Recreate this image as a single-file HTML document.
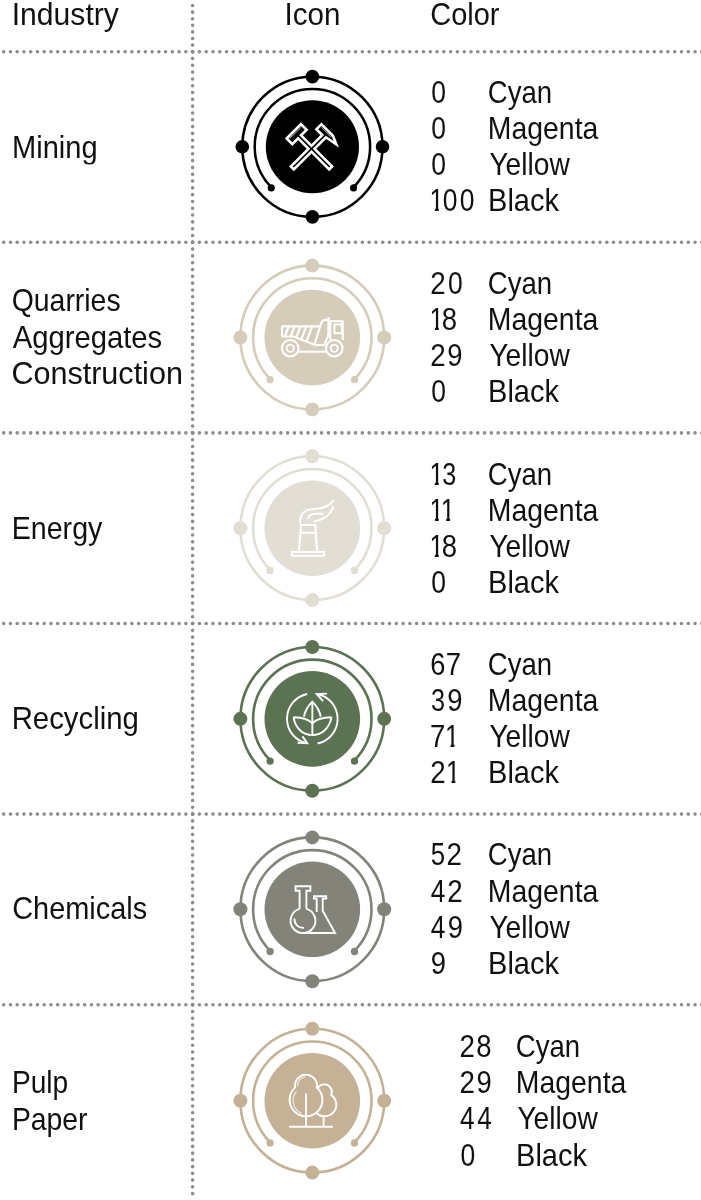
<!DOCTYPE html>
<html><head><meta charset="utf-8"><style>
html,body{margin:0;padding:0;background:#fff;width:701px;height:1200px;overflow:hidden}
svg{display:block}
</style></head><body>
<svg width="701" height="1200" viewBox="0 0 701 1200">
<line x1="3.71" y1="51.7" x2="192.6" y2="51.7" stroke="#8c8c8c" stroke-width="3.6" stroke-linecap="round" stroke-dasharray="0 6.746"/>
<line x1="192.6" y1="51.7" x2="710" y2="51.7" stroke="#8c8c8c" stroke-width="3.6" stroke-linecap="round" stroke-dasharray="0 6.79"/>
<line x1="3.71" y1="242.3" x2="192.6" y2="242.3" stroke="#8c8c8c" stroke-width="3.6" stroke-linecap="round" stroke-dasharray="0 6.746"/>
<line x1="192.6" y1="242.3" x2="710" y2="242.3" stroke="#8c8c8c" stroke-width="3.6" stroke-linecap="round" stroke-dasharray="0 6.79"/>
<line x1="3.71" y1="432.9" x2="192.6" y2="432.9" stroke="#8c8c8c" stroke-width="3.6" stroke-linecap="round" stroke-dasharray="0 6.746"/>
<line x1="192.6" y1="432.9" x2="710" y2="432.9" stroke="#8c8c8c" stroke-width="3.6" stroke-linecap="round" stroke-dasharray="0 6.79"/>
<line x1="3.71" y1="623.55" x2="192.6" y2="623.55" stroke="#8c8c8c" stroke-width="3.6" stroke-linecap="round" stroke-dasharray="0 6.746"/>
<line x1="192.6" y1="623.55" x2="710" y2="623.55" stroke="#8c8c8c" stroke-width="3.6" stroke-linecap="round" stroke-dasharray="0 6.79"/>
<line x1="3.71" y1="814.1" x2="192.6" y2="814.1" stroke="#8c8c8c" stroke-width="3.6" stroke-linecap="round" stroke-dasharray="0 6.746"/>
<line x1="192.6" y1="814.1" x2="710" y2="814.1" stroke="#8c8c8c" stroke-width="3.6" stroke-linecap="round" stroke-dasharray="0 6.79"/>
<line x1="3.71" y1="1004.8" x2="192.6" y2="1004.8" stroke="#8c8c8c" stroke-width="3.6" stroke-linecap="round" stroke-dasharray="0 6.746"/>
<line x1="192.6" y1="1004.8" x2="710" y2="1004.8" stroke="#8c8c8c" stroke-width="3.6" stroke-linecap="round" stroke-dasharray="0 6.79"/>
<line x1="192.6" y1="5.53" x2="192.6" y2="51.90" stroke="#8c8c8c" stroke-width="3.6" stroke-linecap="round" stroke-dasharray="0 6.5957"/>
<line x1="192.6" y1="51.7" x2="192.6" y2="242.50" stroke="#8c8c8c" stroke-width="3.6" stroke-linecap="round" stroke-dasharray="0 6.8071"/>
<line x1="192.6" y1="242.3" x2="192.6" y2="433.10" stroke="#8c8c8c" stroke-width="3.6" stroke-linecap="round" stroke-dasharray="0 6.8071"/>
<line x1="192.6" y1="432.9" x2="192.6" y2="623.75" stroke="#8c8c8c" stroke-width="3.6" stroke-linecap="round" stroke-dasharray="0 6.8089"/>
<line x1="192.6" y1="623.55" x2="192.6" y2="814.30" stroke="#8c8c8c" stroke-width="3.6" stroke-linecap="round" stroke-dasharray="0 6.8054"/>
<line x1="192.6" y1="814.1" x2="192.6" y2="1005.00" stroke="#8c8c8c" stroke-width="3.6" stroke-linecap="round" stroke-dasharray="0 6.8107"/>
<line x1="192.6" y1="1004.8" x2="192.6" y2="1193.80" stroke="#8c8c8c" stroke-width="3.6" stroke-linecap="round" stroke-dasharray="0 6.7429"/>
<g transform="translate(312.4,146.76) scale(0.975)"><circle r="71.9" fill="none" stroke="#000000" stroke-width="2.6"/><circle cx="0" cy="-71.9" r="7" fill="#000000"/><circle cx="71.9" cy="0" r="7" fill="#000000"/><circle cx="0" cy="71.9" r="7" fill="#000000"/><circle cx="-71.9" cy="0" r="7" fill="#000000"/><path d="M-41.86,41.86 A59.2,59.2 0 1 1 41.86,41.86" fill="none" stroke="#000000" stroke-width="2.6"/><circle cx="-42.2" cy="42.2" r="3.65" fill="#000000"/><circle cx="42.2" cy="42.2" r="3.65" fill="#000000"/><circle r="47.8" fill="#000000"/></g>
<g transform="translate(312.3,337.5) scale(1.0)"><circle r="71.9" fill="none" stroke="#d5ccba" stroke-width="2.6"/><circle cx="0" cy="-71.9" r="7" fill="#d5ccba"/><circle cx="71.9" cy="0" r="7" fill="#d5ccba"/><circle cx="0" cy="71.9" r="7" fill="#d5ccba"/><circle cx="-71.9" cy="0" r="7" fill="#d5ccba"/><path d="M-41.86,41.86 A59.2,59.2 0 1 1 41.86,41.86" fill="none" stroke="#d5ccba" stroke-width="2.6"/><circle cx="-42.2" cy="42.2" r="3.65" fill="#d5ccba"/><circle cx="42.2" cy="42.2" r="3.65" fill="#d5ccba"/><circle r="47.8" fill="#d5ccba"/></g>
<g transform="translate(312.3,528.2) scale(1.0)"><circle r="71.9" fill="none" stroke="#e2ded3" stroke-width="2.6"/><circle cx="0" cy="-71.9" r="7" fill="#e2ded3"/><circle cx="71.9" cy="0" r="7" fill="#e2ded3"/><circle cx="0" cy="71.9" r="7" fill="#e2ded3"/><circle cx="-71.9" cy="0" r="7" fill="#e2ded3"/><path d="M-41.86,41.86 A59.2,59.2 0 1 1 41.86,41.86" fill="none" stroke="#e2ded3" stroke-width="2.6"/><circle cx="-42.2" cy="42.2" r="3.65" fill="#e2ded3"/><circle cx="42.2" cy="42.2" r="3.65" fill="#e2ded3"/><circle r="47.8" fill="#e2ded3"/></g>
<g transform="translate(312.3,718.85) scale(1.0)"><circle r="71.9" fill="none" stroke="#5b7352" stroke-width="2.6"/><circle cx="0" cy="-71.9" r="7" fill="#5b7352"/><circle cx="71.9" cy="0" r="7" fill="#5b7352"/><circle cx="0" cy="71.9" r="7" fill="#5b7352"/><circle cx="-71.9" cy="0" r="7" fill="#5b7352"/><path d="M-41.86,41.86 A59.2,59.2 0 1 1 41.86,41.86" fill="none" stroke="#5b7352" stroke-width="2.6"/><circle cx="-42.2" cy="42.2" r="3.65" fill="#5b7352"/><circle cx="42.2" cy="42.2" r="3.65" fill="#5b7352"/><circle r="47.8" fill="#5b7352"/></g>
<g transform="translate(312.3,909.3) scale(1.0)"><circle r="71.9" fill="none" stroke="#83837a" stroke-width="2.6"/><circle cx="0" cy="-71.9" r="7" fill="#83837a"/><circle cx="71.9" cy="0" r="7" fill="#83837a"/><circle cx="0" cy="71.9" r="7" fill="#83837a"/><circle cx="-71.9" cy="0" r="7" fill="#83837a"/><path d="M-41.86,41.86 A59.2,59.2 0 1 1 41.86,41.86" fill="none" stroke="#83837a" stroke-width="2.6"/><circle cx="-42.2" cy="42.2" r="3.65" fill="#83837a"/><circle cx="42.2" cy="42.2" r="3.65" fill="#83837a"/><circle r="47.8" fill="#83837a"/></g>
<g transform="translate(312.3,1100.7) scale(1.0)"><circle r="71.9" fill="none" stroke="#c5b195" stroke-width="2.6"/><circle cx="0" cy="-71.9" r="7" fill="#c5b195"/><circle cx="71.9" cy="0" r="7" fill="#c5b195"/><circle cx="0" cy="71.9" r="7" fill="#c5b195"/><circle cx="-71.9" cy="0" r="7" fill="#c5b195"/><path d="M-41.86,41.86 A59.2,59.2 0 1 1 41.86,41.86" fill="none" stroke="#c5b195" stroke-width="2.6"/><circle cx="-42.2" cy="42.2" r="3.65" fill="#c5b195"/><circle cx="42.2" cy="42.2" r="3.65" fill="#c5b195"/><circle r="47.8" fill="#c5b195"/></g>
<g fill="#fff" stroke="#fff" stroke-width="5.2" stroke-linejoin="miter" stroke-miterlimit="10"><path transform="translate(311.5,148.8) rotate(-45)" d="M-8.9,-23.6 L8.7,-23.6 L8.7,-18.2 L0.8,-18.2 L0.8,25.8 L-0.8,25.8 L-0.8,-18.2 L-8.9,-18.2 Z"/><path transform="translate(311.5,148.8) rotate(45)" d="M-9.05,-23.1 L5.6,-23.1 L10.0,-21.2 L0.8,-19.4 L0.8,25.8 L-0.8,25.8 L-0.8,-18.6 L-9.05,-18.6 Z"/></g>
<g fill="#000"><path transform="translate(311.5,148.8) rotate(-45)" d="M-8.9,-23.6 L8.7,-23.6 L8.7,-18.2 L0.8,-18.2 L0.8,25.8 L-0.8,25.8 L-0.8,-18.2 L-8.9,-18.2 Z"/><path transform="translate(311.5,148.8) rotate(45)" d="M-9.05,-23.1 L5.6,-23.1 L10.0,-21.2 L0.8,-19.4 L0.8,25.8 L-0.8,25.8 L-0.8,-18.6 L-9.05,-18.6 Z"/></g>
<g stroke="#fff" stroke-width="1" stroke-opacity=".6"><path transform="translate(311.5,148.8) rotate(-45)" d="M-8.0,-22.6 H7.9"/><path transform="translate(311.5,148.8) rotate(45)" d="M-8.3,-22.2 H6"/></g>
<g fill="none" stroke="#fff" stroke-linejoin="miter" stroke-linecap="butt" stroke-width="2.1"><path d="M282,336.5 V326.4 H320"/><path d="M282,336.5 H293.4 L315,345 H325"/><path d="M314.4,344.5 L320.6,325 Q322,320.3 325,319.9 H328.4 V335.1 L324.5,344.5"/><path d="M328.5,317 V321"/><path d="M329,321.3 H343.6 M342.6,321.3 L342.9,340 M330.2,321.4 V339.7"/><path d="M334.4,324.6 H341.8 V333.2 H334.4 Z" stroke-width="2"/><path d="M288.6,326.4 L284.76,336.50" stroke-width="2.2"/><path d="M294.5,326.4 L290.66,336.50" stroke-width="2.2"/><path d="M300.4,326.4 L296.15,337.59" stroke-width="2.2"/><path d="M306.3,326.4 L301.28,339.62" stroke-width="2.2"/><path d="M312.2,326.4 L306.41,341.65" stroke-width="2.2"/><circle cx="290.27" cy="348.24" r="8.3"/><circle cx="290.27" cy="348.24" r="3.6" stroke-width="1.8"/><circle cx="334.25" cy="348.24" r="8.3"/><circle cx="334.25" cy="348.24" r="3.6" stroke-width="1.8"/><path d="M298.5,351.7 H326"/></g>
<g fill="none" stroke="#fff" stroke-linejoin="miter" stroke-linecap="butt" stroke-width="2" stroke-linecap="round"><path d="M291.9,551.9 H324.1 V555.8 H291.9 Z"/><path d="M298.9,551.5 L301.05,525 H315.3 L317.1,551.5"/><path d="M300.6,532.8 H315.8"/><path d="M300,523.5 C300,514 304,509.6 312,509.2 C322,508.9 330,507 333.5,500"/><path d="M333.5,506.4 C331,514 324,520 313.9,521.4"/><path d="M307.8,518.9 C308.5,515.5 311,513.8 315.7,513.7 L323.2,513.8"/></g>
<g fill="none" stroke="#fff" stroke-linejoin="miter" stroke-linecap="butt" stroke-width="1.9"><path d="M307.2,694 A25.2,25.2 0 0 0 307.2,743.4"/><path d="M302.4,736.3 L307.2,743.1 L297.6,742.7"/><path d="M317.5,743.5 A25.2,25.2 0 0 0 316.75,694"/><path d="M327.1,693.6 L316.75,694 L323.1,701.2"/><path d="M303.97,716.75 C305,710 309,705 312.35,701.6 C315.7,705 319.7,710 320.7,716.75"/><path d="M312.35,703 V735"/><path d="M293.6,717.2 C295,728 303,735.1 312.35,735.1 C321.7,735.1 329.7,728 331.5,717.2"/><path d="M293.6,717.2 C302,717.5 309,719 312.35,723.5 C315.7,719 322.7,717.5 331.5,717.2"/></g>
<g fill="none" stroke="#fff" stroke-linejoin="miter" stroke-linecap="butt" stroke-width="1.9"><path d="M299.6,908.8 A12.4,12.4 0 1 0 306.4,908.8"/><path d="M299.6,908.8 V890.8 H295.6 V886.3 H310.4 V890.8 H306.4 V908.8"/><path d="M294.4,919.1 C294.4,924 298,927.9 303.2,927.9" stroke-linecap="round"/><path d="M316.7,912 V898.6 H313.9 V896.2 H326.2 V898.6 H322.7 V910.8 L335.1,933 H303.2"/></g>
<g fill="none" stroke="#fff" stroke-linejoin="miter" stroke-linecap="butt" stroke-width="1.9"><path d="M317.57,1095.55 A7.6,7.6 0 1 1 331.23,1095.1 A11.6,11.6 0 1 1 317.57,1095.55 Z"/><path d="M323.6,1115 V1126.75"/><path d="M295.15,1087.6 A11,11 0 1 1 316.85,1087.6 A16.4,16.4 0 1 1 295.15,1087.6 Z" fill="#c5b195"/><path d="M297.4,1086.2 A9,9 0 0 1 305,1076.9" stroke-width="1.1" stroke-opacity=".75"/><path d="M296.5,1091.3 A14.1,14.1 0 0 0 301.5,1113.4" stroke-width="1.1" stroke-opacity=".75"/><path d="M306,1093.5 V1126.75"/><path d="M289.2,1126.75 H332.7"/></g>
<defs><clipPath id="one" clipPathUnits="userSpaceOnUse"><rect x="-5" y="-35" width="30" height="31.9"/><rect x="6.6" y="-35" width="4.6" height="40"/></clipPath></defs>
<g font-family="Liberation Sans, sans-serif" font-size="30.5" fill="#111" opacity="0.999"><text transform="translate(11.74,25.0) scale(0.9873,1)">Industry</text>
<text transform="translate(284.59,25.0) scale(0.9688,1)">Icon</text>
<text transform="translate(430.26,25.0) scale(0.9488,1)">Color</text>
<text transform="translate(12.06,157.5) scale(0.9523,1)">Mining</text>
<text transform="translate(431.37,102.7) scale(0.8675,1)">0</text>
<text transform="translate(487.84,102.7) scale(0.9041,1)">Cyan</text>
<text transform="translate(431.37,138.9) scale(0.8675,1)">0</text>
<text transform="translate(487.82,138.9) scale(0.9314,1)">Magenta</text>
<text transform="translate(431.37,175.10000000000002) scale(0.8675,1)">0</text>
<text transform="translate(489.41,175.10000000000002) scale(0.9237,1)">Yellow</text>
<text transform="translate(429.39,211.3) scale(0.8354,1)" clip-path="url(#one)">1</text>
<text transform="translate(442.67,211.3) scale(0.8675,1)">0</text>
<text transform="translate(459.87,211.3) scale(0.8675,1)">0</text>
<text transform="translate(488.06,211.3) scale(0.9519,1)">Black</text>
<text transform="translate(11.67,311.0) scale(0.9322,1)">Quarries</text>
<text transform="translate(12.65,347.6) scale(0.9590,1)">Aggregates</text>
<text transform="translate(11.38,384.4) scale(1.0024,1)">Construction</text>
<text transform="translate(430.25,293.6) scale(0.9084,1)">2</text>
<text transform="translate(447.97,293.6) scale(0.8675,1)">0</text>
<text transform="translate(487.84,293.6) scale(0.9041,1)">Cyan</text>
<text transform="translate(429.39,329.8) scale(0.8354,1)" clip-path="url(#one)">1</text>
<text transform="translate(441.79,329.8) scale(0.9014,1)">8</text>
<text transform="translate(487.82,329.8) scale(0.9314,1)">Magenta</text>
<text transform="translate(430.25,366.0) scale(0.9084,1)">2</text>
<text transform="translate(447.31,366.0) scale(0.8994,1)">9</text>
<text transform="translate(489.41,366.0) scale(0.9237,1)">Yellow</text>
<text transform="translate(431.37,402.20000000000005) scale(0.8675,1)">0</text>
<text transform="translate(488.06,402.20000000000005) scale(0.9519,1)">Black</text>
<text transform="translate(11.75,538.8) scale(0.9379,1)">Energy</text>
<text transform="translate(429.39,484.6) scale(0.8354,1)" clip-path="url(#one)">1</text>
<text transform="translate(442.20,484.6) scale(0.8259,1)">3</text>
<text transform="translate(487.84,484.6) scale(0.9041,1)">Cyan</text>
<text transform="translate(429.39,520.8000000000001) scale(0.8354,1)" clip-path="url(#one)">1</text>
<text transform="translate(440.69,520.8000000000001) scale(0.8354,1)" clip-path="url(#one)">1</text>
<text transform="translate(487.82,520.8000000000001) scale(0.9314,1)">Magenta</text>
<text transform="translate(429.39,557.0) scale(0.8354,1)" clip-path="url(#one)">1</text>
<text transform="translate(441.79,557.0) scale(0.9014,1)">8</text>
<text transform="translate(489.41,557.0) scale(0.9237,1)">Yellow</text>
<text transform="translate(431.37,593.2) scale(0.8675,1)">0</text>
<text transform="translate(488.06,593.2) scale(0.9519,1)">Black</text>
<text transform="translate(11.69,729.2) scale(0.9616,1)">Recycling</text>
<text transform="translate(430.25,674.6) scale(0.8929,1)">6</text>
<text transform="translate(445.84,674.6) scale(0.9025,1)">7</text>
<text transform="translate(487.84,674.6) scale(0.9041,1)">Cyan</text>
<text transform="translate(430.90,710.8000000000001) scale(0.8259,1)">3</text>
<text transform="translate(447.21,710.8000000000001) scale(0.8994,1)">9</text>
<text transform="translate(487.82,710.8000000000001) scale(0.9314,1)">Magenta</text>
<text transform="translate(429.94,747.0) scale(0.9025,1)">7</text>
<text transform="translate(445.09,747.0) scale(0.8354,1)" clip-path="url(#one)">1</text>
<text transform="translate(489.41,747.0) scale(0.9237,1)">Yellow</text>
<text transform="translate(430.25,783.2) scale(0.9084,1)">2</text>
<text transform="translate(445.99,783.2) scale(0.8354,1)" clip-path="url(#one)">1</text>
<text transform="translate(488.06,783.2) scale(0.9519,1)">Black</text>
<text transform="translate(12.16,919.2) scale(0.9484,1)">Chemicals</text>
<text transform="translate(430.74,865.4) scale(0.8454,1)">5</text>
<text transform="translate(446.55,865.4) scale(0.9084,1)">2</text>
<text transform="translate(487.84,865.4) scale(0.9041,1)">Cyan</text>
<text transform="translate(430.87,901.6) scale(0.8597,1)">4</text>
<text transform="translate(447.35,901.6) scale(0.9084,1)">2</text>
<text transform="translate(487.82,901.6) scale(0.9314,1)">Magenta</text>
<text transform="translate(430.87,937.8) scale(0.8597,1)">4</text>
<text transform="translate(447.81,937.8) scale(0.8994,1)">9</text>
<text transform="translate(489.41,937.8) scale(0.9237,1)">Yellow</text>
<text transform="translate(430.71,974.0) scale(0.8994,1)">9</text>
<text transform="translate(488.06,974.0) scale(0.9519,1)">Black</text>
<text transform="translate(11.94,1093.2) scale(0.9221,1)">Pulp</text>
<text transform="translate(11.92,1129.6) scale(0.9293,1)">Paper</text>
<text transform="translate(459.45,1057.0) scale(0.9084,1)">2</text>
<text transform="translate(476.29,1057.0) scale(0.9014,1)">8</text>
<text transform="translate(515.84,1057.0) scale(0.9041,1)">Cyan</text>
<text transform="translate(459.45,1093.2) scale(0.9084,1)">2</text>
<text transform="translate(476.51,1093.2) scale(0.8994,1)">9</text>
<text transform="translate(515.82,1093.2) scale(0.9314,1)">Magenta</text>
<text transform="translate(460.07,1129.4) scale(0.8597,1)">4</text>
<text transform="translate(477.17,1129.4) scale(0.8597,1)">4</text>
<text transform="translate(517.41,1129.4) scale(0.9237,1)">Yellow</text>
<text transform="translate(460.57,1165.6) scale(0.8675,1)">0</text>
<text transform="translate(516.06,1165.6) scale(0.9519,1)">Black</text></g>
</svg>
</body></html>
